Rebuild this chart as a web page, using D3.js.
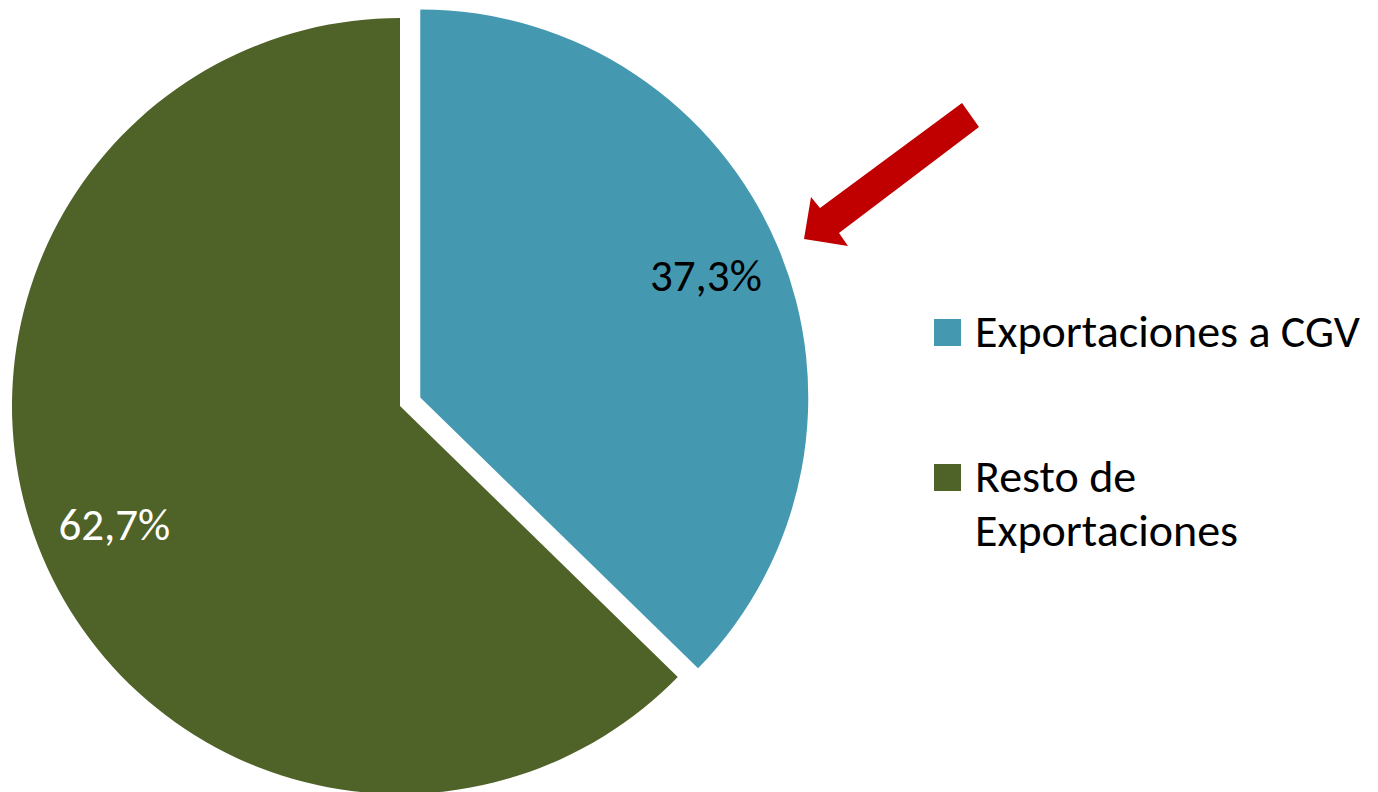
<!DOCTYPE html>
<html lang="es">
<head>
	<meta charset="UTF-8">
	<title>Exportaciones a CGV</title>
	<style>
		body { margin: 0; background: #fff; }
		text { font-family: Carlito, Calibri, "Open Sans", sans-serif; }
	</style>
</head>
<body>

	<script src="https://d3js.org/d3.v7.min.js" charset="utf-8"></script>

	<script type="text/javascript">

		var width = 1378,
			height = 792;

		// data
		var categories = [ "Exportaciones a CGV", "Resto de Exportaciones" ],
			values = [ 37.3, 62.7 ],
			valueLabels = [ "37,3%", "62,7%" ],
			legendLines = [ [ "Exportaciones a CGV" ], [ "Resto de", "Exportaciones" ] ];

		var colors = [ "#4499b1", "#4f6228" ],
			labelColors = [ "#000", "#fff" ];

		var cx = 400,
			cy = 406,
			radius = 388,
			explode = 22, // only the first slice is pulled out
			labelRadius = 310;

		var svg = d3.select( "body" )
					.append( "svg" )
					.attr( "width", width )
					.attr( "height", height );

		var pie = d3.pie().sort( null ).value( function(d) { return d; } );
		var arcs = pie( values );

		var arc = d3.arc().innerRadius( 0 ).outerRadius( radius );
		var labelArc = d3.arc().innerRadius( labelRadius ).outerRadius( labelRadius );

		function sliceOffset( d, i ) {
			if( i !== 0 ) return [ 0, 0 ];
			var mid = (d.startAngle + d.endAngle) / 2;
			return [ Math.sin( mid ) * explode, -Math.cos( mid ) * explode ];
		}

		var slices = svg.selectAll( "g.slice" )
				.data( arcs )
				.enter()
				.append( "g" )
				.attr( "class", "slice" )
				.attr( "transform", function(d, i) {
					var o = sliceOffset( d, i );
					return "translate(" + (cx + o[0]) + "," + (cy + o[1]) + ")";
				});

		slices.append( "path" )
				.attr( "d", arc )
				.style( "fill", function(d, i) { return colors[i]; } );

		slices.append( "text" )
				.attr( "x", function(d) { return labelArc.centroid(d)[0]; } )
				.attr( "y", function(d) { return labelArc.centroid(d)[1]; } )
				.attr( "dy", "0.3em" )
				.attr( "text-anchor", "middle" )
				.style( "font-size", "45px" )
				.style( "fill", function(d, i) { return labelColors[i]; } )
				.text( function(d, i) { return valueLabels[i]; } );

		// red arrow pointing at the CGV slice
		svg.append( "path" )
				.attr( "d", "M804,239 L811,197 L820,208 L962,103 L979,127 L839,233 L848,246 Z" )
				.style( "fill", "#c00000" );

		// legend
		var legendX = 934,
			legendY = [ 319, 464 ],
			boxSize = 27;

		var legend = svg.selectAll( "g.legend" )
				.data( categories )
				.enter()
				.append( "g" )
				.attr( "class", "legend" )
				.attr( "transform", function(d, i) {
					return "translate(" + legendX + "," + legendY[i] + ")";
				});

		legend.append( "rect" )
				.attr( "width", boxSize )
				.attr( "height", boxSize )
				.style( "fill", function(d, i) { return colors[i]; } );

		legend.each( function(d, i) {
			var t = d3.select( this ).append( "text" )
					.attr( "x", 41 )
					.attr( "y", 28 )
					.style( "font-size", "46px" )
					.style( "fill", "#000" );

			legendLines[i].forEach( function(line, j) {
				t.append( "tspan" )
					.attr( "x", 41 )
					.attr( "dy", j === 0 ? 0 : 54 )
					.text( line );
			});
		});

	</script>
</body>
</html>
